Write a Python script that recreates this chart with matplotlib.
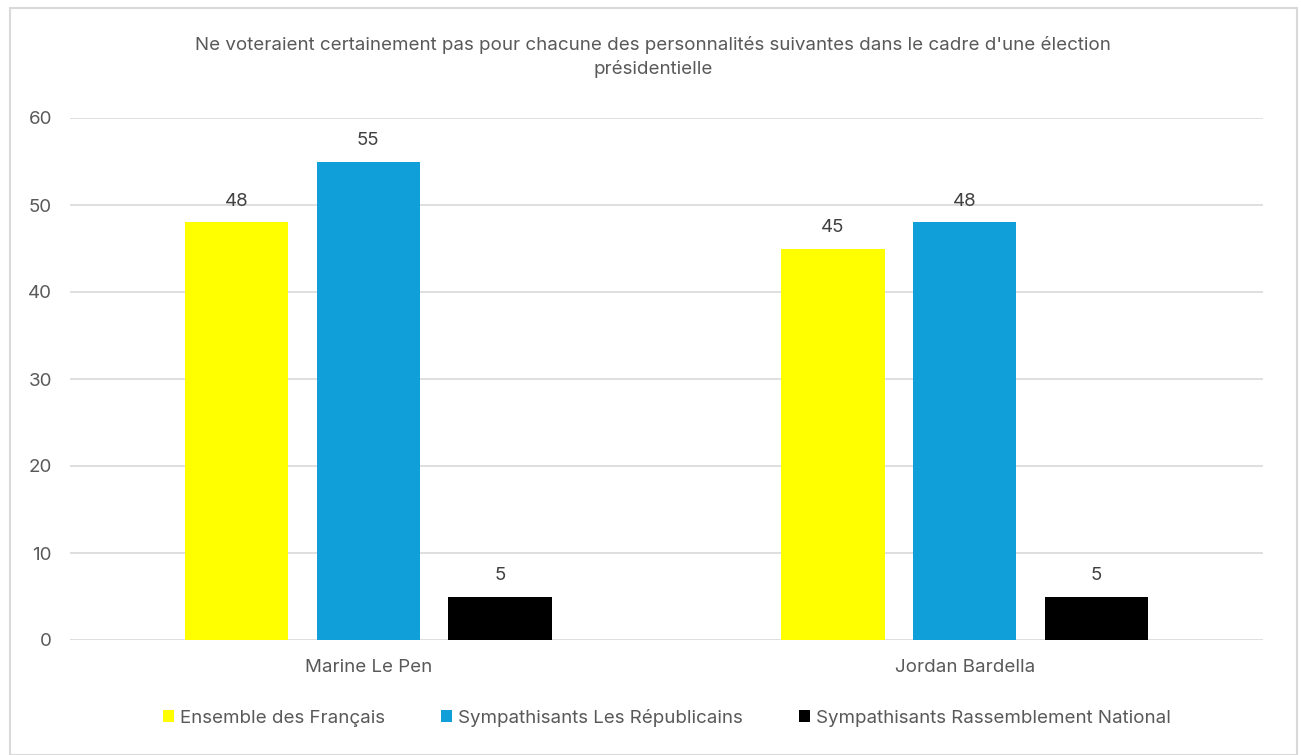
import matplotlib as mpl
mpl.use('Agg')
import matplotlib.pyplot as plt
from matplotlib.patches import Rectangle
import numpy as np

candidates = ['Marine Le Pen', 'Jordan Bardella']
series = ['Ensemble des Français', 'Sympathisants Les Républicains',
          'Sympathisants Rassemblement National']
ensemble = [48, 45]
republicains = [55, 48]
rn = [5, 5]
colors = ['#ffff00', '#109fd8', '#000000']

plt.rcParams['font.family'] = ['Inter', 'DejaVu Sans']
grey = '#595959'
fs = 13.5

fig = plt.figure(figsize=(13.01, 7.55), dpi=100)
fig.patches.append(Rectangle((10 / 1301, 0), 1287 / 1301, 1 - 8 / 755,
                             transform=fig.transFigure, fill=False,
                             edgecolor='#d9d9d9', linewidth=1.5))
ax = fig.add_axes([70 / 1301, 1 - 640 / 755, 1193 / 1301, 522 / 755])

x = np.arange(len(candidates))
width = 0.173
step = 0.221
for i, (vals, name) in enumerate(zip([ensemble, republicains, rn], series)):
    bars = ax.bar(x + (i - 1) * step, vals, width, color=colors[i], label=name)
    ax.bar_label(bars, padding=9, fontsize=fs, color='#404040')

ax.set_xlim(-0.5, 1.5)
ax.set_ylim(0, 60)
ax.set_yticks(range(0, 61, 10))
ax.set_xticks(x)
ax.set_xticklabels(candidates)
ax.grid(axis='y', color='#d9d9d9', linewidth=1.2)
ax.set_axisbelow(True)
for s in ax.spines.values():
    s.set_visible(False)
ax.tick_params(length=0, labelsize=fs, labelcolor=grey)
ax.tick_params(axis='y', pad=13)
ax.tick_params(axis='x', pad=14)

fig.text(0.502, 1 - 57 / 755, "Ne voteraient certainement pas pour chacune des personnalités suivantes dans le cadre d'une élection\nprésidentielle",
         ha='center', va='center', fontsize=fs, color=grey, linespacing=1.5)

ax.legend(loc='center', bbox_to_anchor=(0.5, (640 - 718) / 522), ncol=3,
          frameon=False, fontsize=fs, labelcolor=grey, handlelength=0.6,
          handleheight=0.6, handletextpad=0.3, columnspacing=3.0)

fig.savefig('out.png', dpi=100)
